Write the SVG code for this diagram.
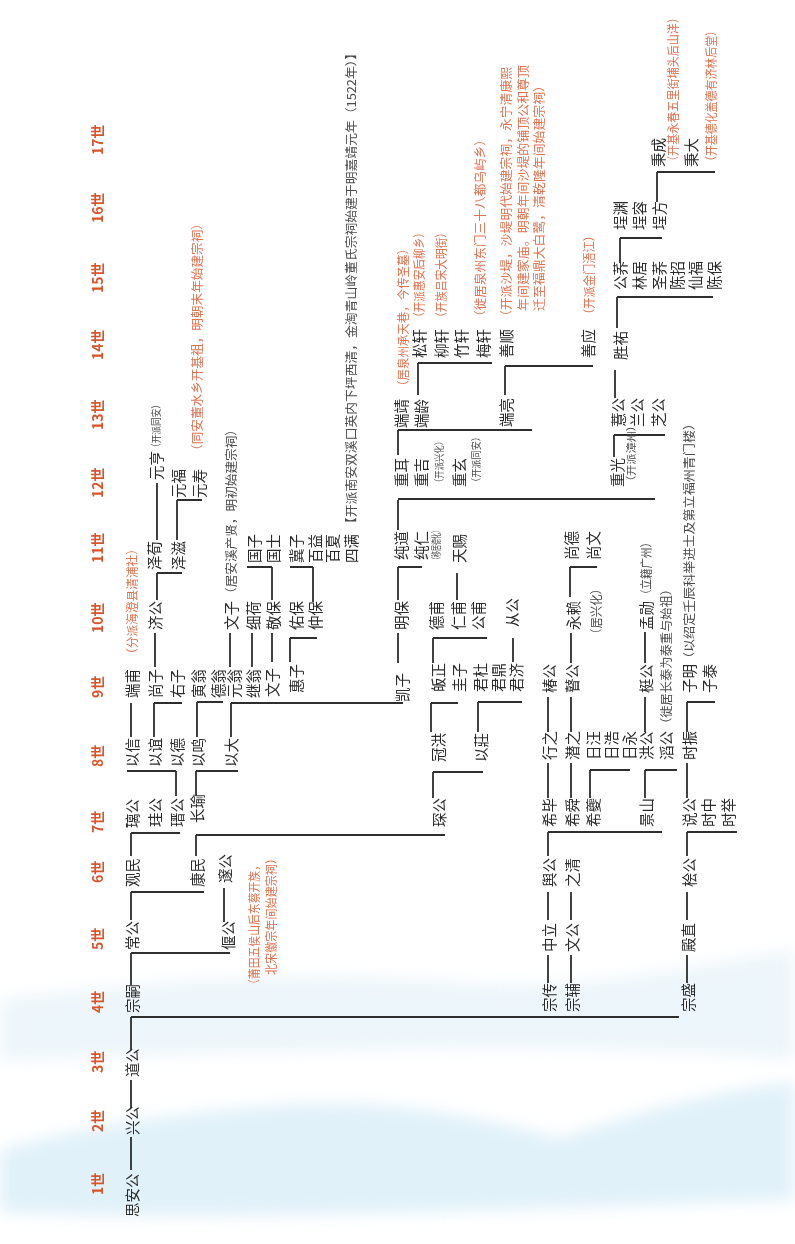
<svg xmlns="http://www.w3.org/2000/svg" width="795" height="1244" viewBox="0 0 795 1244">
<style>
text{font-family:"Noto Sans CJK SC","Noto Sans CJK JP",sans-serif;dominant-baseline:central}
.n{font-size:14.5px;fill:#2b2b2b}
.gen{font-family:"Liberation Sans","Noto Sans CJK SC",sans-serif;font-size:14px;font-weight:bold;fill:#d9542b}
.r{font-size:12px;fill:#e0714f}
.a{font-size:12px;fill:#4a4a4a}
.s{font-size:10px;fill:#4a4a4a}
.c{fill:none;stroke:#2e2e2e;stroke-width:1.8}
</style>
<defs>
<filter id="blur" x="-10%" y="-30%" width="120%" height="160%"><feGaussianBlur stdDeviation="8"/></filter>
</defs>
<rect width="795" height="1244" fill="#fff"/>
<g id="background" filter="url(#blur)">
<path d="M0 1000 C150 980 300 970 450 982 C600 994 700 962 795 950 L795 1060 C600 1040 300 1050 0 1060 Z" fill="#e6f2fa" opacity="0.7"/>
<path d="M0 1150 C100 1122 200 1110 300 1104 C400 1100 480 1118 560 1138 C650 1108 720 1090 795 1082 L795 1200 C500 1210 200 1222 0 1212 Z" fill="#d9edf8" opacity="0.8"/>
</g>
<g id="connectors" class="c">
<path d="M131 1137V1170M131 1080V1108M131 1017V1050M131 1017H679
M131 953V985M131 953H230M131 892V920M131 892H204M224 888V922
M131 833V856M131 833H180M196 835V856M196 835H445
M176 771V796M127 771H176M196 771V796M196 771H238
M131 703V737M154 703V737M154 703H182M197 702V737M197 702H223M231 703V737M231 703H403
M155 633V667M230 633V667M252 633V667M272 633V662M290 638V662M290 638H317M398 633V663
M433 772V798M433 772H483M431 703V732M431 703H458M478 702V732M478 702H522M433 638V663M433 638H487M513 638V662
M157 573V600M157 573H182M272 567V600M247 567H272M313 567V602M290 567H313M398 567V600M398 567H422M457 573V600
M157 483V540M177 500V540M177 500H202M398 500V530M398 499H655M398 430V455M398 430H532M614 435V457M614 435H665
M418 363V395M418 363H492M505 366V395M505 366H593M615 370V398M617 297V328M617 297H713M620 238V263M620 238H662M657 172V202M657 172H715
M548 955V983M571 955V983M687 955V983M548 892V920M571 892V920M687 892V920
M548 832V856M548 832H662M687 832V856M687 832H737
M548 763V798M571 763V798M590 770V798M590 770H630M645 770V798M645 770H677M687 763V798
M548 697V732M571 697V732M645 697V732M687 702V732M687 702H715
M571 633V663M645 632V663M570 567V597M570 567H597"/>
</g>
<g transform="matrix(0,-1,1,0,0,1244)">
<g id="generations" class="gen">
<text x="49" y="97">1世</text><text x="112" y="97">2世</text><text x="171" y="97">3世</text><text x="231" y="97">4世</text>
<text x="294" y="97">5世</text><text x="361" y="97">6世</text><text x="411" y="97">7世</text><text x="477" y="97">8世</text>
<text x="546" y="97">9世</text><text x="611" y="97">10世</text><text x="681" y="97">11世</text><text x="746" y="97">12世</text>
<text x="814" y="97">13世</text><text x="884" y="97">14世</text><text x="951" y="97">15世</text><text x="1021" y="97">16世</text><text x="1089" y="97">17世</text>
</g>
<g id="n001"><text class="n" x="27" y="131">思安公</text></g>
<g id="n002"><text class="n" x="109" y="131">兴公</text></g>
<g id="n003"><text class="n" x="167" y="131">道公</text></g>
<g id="n004"><text class="n" x="231" y="131">宗嗣</text></g>
<g id="n005"><text class="n" x="232" y="548">宗传</text></g>
<g id="n006"><text class="n" x="232" y="571">宗辅</text></g>
<g id="n007"><text class="n" x="232" y="687">宗盛</text></g>
<g id="n008"><text class="n" x="294" y="131">常公</text></g>
<g id="n009"><text class="n" x="294" y="227">偃公</text><text class="r" x="254" y="253" textLength="130" lengthAdjust="spacingAndGlyphs">（莆田五侯山后东蔡开族，</text><text class="r" x="269" y="270" textLength="122" lengthAdjust="spacingAndGlyphs">北宋徽宗年间始建宗祠）</text></g>
<g id="n010"><text class="n" x="292" y="548">中立</text></g>
<g id="n011"><text class="n" x="292" y="571">文公</text></g>
<g id="n012"><text class="n" x="292" y="687">殿直</text></g>
<g id="n013"><text class="n" x="357" y="131">观民</text></g>
<g id="n014"><text class="n" x="357" y="196">康民</text></g>
<g id="n015"><text class="n" x="361" y="224">邃公</text></g>
<g id="n016"><text class="n" x="357" y="548">舆公</text></g>
<g id="n017"><text class="n" x="357" y="571">之清</text></g>
<g id="n018"><text class="n" x="357" y="688">桧公</text></g>
<g id="n019"><text class="n" x="416" y="131">璃公</text></g>
<g id="n020"><text class="n" x="417" y="154">珪公</text></g>
<g id="n021"><text class="n" x="417" y="176">瑨公</text></g>
<g id="n022"><text class="n" x="421" y="196">长瑜</text></g>
<g id="n023"><text class="n" x="417" y="438">琛公</text></g>
<g id="n024"><text class="n" x="417" y="548">希毕</text></g>
<g id="n025"><text class="n" x="417" y="571">希舜</text></g>
<g id="n026"><text class="n" x="417" y="592">希夔</text></g>
<g id="n027"><text class="n" x="417" y="645">景山</text></g>
<g id="n028"><text class="n" x="417" y="688">说公</text></g>
<g id="n029"><text class="n" x="417" y="707">时中</text></g>
<g id="n030"><text class="n" x="417" y="727">时举</text></g>
<g id="n031"><text class="n" x="477" y="131">以信</text></g>
<g id="n032"><text class="n" x="477" y="154">以谊</text></g>
<g id="n033"><text class="n" x="477" y="176">以德</text></g>
<g id="n034"><text class="n" x="477" y="197">以鸣</text></g>
<g id="n035"><text class="n" x="477" y="230">以大</text></g>
<g id="n036"><text class="n" x="482" y="437">冠洪</text></g>
<g id="n037"><text class="n" x="482" y="480">以莊</text></g>
<g id="n038"><text class="n" x="484" y="548">行之</text></g>
<g id="n039"><text class="n" x="484" y="571">潜之</text></g>
<g id="n040"><text class="n" x="484" y="592">日汪</text></g>
<g id="n041"><text class="n" x="484" y="610">日浩</text></g>
<g id="n042"><text class="n" x="484" y="628">日永</text></g>
<g id="n043"><text class="n" x="484" y="645">洪公</text></g>
<g id="n044"><text class="n" x="484" y="665">滔公</text><text class="a" x="514" y="665" textLength="147" lengthAdjust="spacingAndGlyphs">（徙居长泰为泰重与始祖）</text></g>
<g id="n045"><text class="n" x="484" y="688">时振</text></g>
<g id="n046"><text class="n" x="546" y="131">端甫</text><text class="r" x="584" y="131" textLength="117" lengthAdjust="spacingAndGlyphs">（分派海澄县清浦社）</text></g>
<g id="n047"><text class="n" x="546" y="154">尚子</text></g>
<g id="n048"><text class="n" x="546" y="176">右子</text></g>
<g id="n049"><text class="n" x="546" y="197">寅翁</text></g>
<g id="n050"><text class="n" x="546" y="217">德翁</text></g>
<g id="n051"><text class="n" x="546" y="233">元翁</text></g>
<g id="n052"><text class="n" x="546" y="252">继翁</text></g>
<g id="n053"><text class="n" x="547" y="271">文子</text></g>
<g id="n054"><text class="n" x="551" y="295">惠子</text></g>
<g id="n055"><text class="n" x="542" y="401">凯子</text></g>
<g id="n056"><text class="n" x="552" y="437">皈正</text></g>
<g id="n057"><text class="n" x="552" y="458">圭子</text></g>
<g id="n058"><text class="n" x="552" y="479">君杜</text></g>
<g id="n059"><text class="n" x="552" y="497">君鼎</text></g>
<g id="n060"><text class="n" x="552" y="515">君济</text></g>
<g id="n061"><text class="n" x="551" y="548">椿公</text></g>
<g id="n062"><text class="n" x="551" y="571">瞽公</text></g>
<g id="n063"><text class="n" x="551" y="645">梃公</text></g>
<g id="n064"><text class="n" x="551" y="688">子明</text><text class="a" x="579" y="688" textLength="248" lengthAdjust="spacingAndGlyphs">（以绍定壬辰科举进士及第立福州青门楼）</text></g>
<g id="n065"><text class="n" x="551" y="708">子泰</text></g>
<g id="n066"><text class="n" x="614" y="154">济公</text></g>
<g id="n067"><text class="n" x="614" y="230">文子</text><text class="a" x="644" y="230" textLength="177" lengthAdjust="spacingAndGlyphs">（居安溪产贤，明初始建宗祠）</text></g>
<g id="n068"><text class="n" x="614" y="252">细荷</text></g>
<g id="n069"><text class="n" x="614" y="272">敬保</text></g>
<g id="n070"><text class="n" x="614" y="295">佑保</text></g>
<g id="n071"><text class="n" x="614" y="314">仲保</text></g>
<g id="n072"><text class="n" x="614" y="400">明保</text></g>
<g id="n073"><text class="n" x="614" y="435">德甫</text><text class="s" x="681" y="435" textLength="36" lengthAdjust="spacingAndGlyphs">（移居德化）</text></g>
<g id="n074"><text class="n" x="614" y="457">仁甫</text></g>
<g id="n075"><text class="n" x="614" y="477">公甫</text></g>
<g id="n076"><text class="n" x="617" y="511">从公</text></g>
<g id="n077"><text class="n" x="614" y="572">永赖</text><text class="a" x="604" y="595" textLength="57" lengthAdjust="spacingAndGlyphs">（居兴化）</text></g>
<g id="n078"><text class="n" x="614" y="645">孟勋</text><text class="a" x="644" y="645" textLength="63" lengthAdjust="spacingAndGlyphs">（立籍广州）</text></g>
<g id="n079"><text class="n" x="674" y="153">泽荀</text></g>
<g id="n080"><text class="n" x="674" y="177">泽滋</text></g>
<g id="n081"><text class="n" x="681" y="253">国子</text></g>
<g id="n082"><text class="n" x="681" y="272">国士</text></g>
<g id="n083"><text class="n" x="681" y="295">冀子</text></g>
<g id="n084"><text class="n" x="681" y="314">百益</text></g>
<g id="n085"><text class="n" x="681" y="331">百夏</text></g>
<g id="n086"><text class="n" x="681" y="350">四满</text><text class="a" x="714" y="350" textLength="483" lengthAdjust="spacingAndGlyphs">【开派南安双溪口英内下坪西清，金淘青山岭董氏宗祠始建于明嘉靖元年（1522年）】</text></g>
<g id="n087"><text class="n" x="684" y="400">纯道</text></g>
<g id="n088"><text class="n" x="684" y="420">纯仁</text></g>
<g id="n089"><text class="n" x="681" y="458">天赐</text></g>
<g id="n090"><text class="n" x="684" y="570">尚德</text></g>
<g id="n091"><text class="n" x="684" y="592">尚文</text></g>
<g id="n092"><text class="n" x="764" y="155">元亨</text><text class="s" x="792" y="155" textLength="52" lengthAdjust="spacingAndGlyphs">（开派同安）</text></g>
<g id="n093"><text class="n" x="746" y="177">元福</text></g>
<g id="n094"><text class="n" x="746" y="198">元寿</text><text class="r" x="787" y="196" textLength="240" lengthAdjust="spacingAndGlyphs">（同安董水乡开基祖，明朝末年始建宗祠）</text></g>
<g id="n095"><text class="n" x="757" y="400">重耳</text></g>
<g id="n096"><text class="n" x="757" y="420">重吉</text><text class="s" x="757" y="438" textLength="50" lengthAdjust="spacingAndGlyphs">（开派兴化）</text></g>
<g id="n097"><text class="n" x="757" y="458">重玄</text><text class="s" x="757" y="475" textLength="55" lengthAdjust="spacingAndGlyphs">（开派同安）</text></g>
<g id="n098"><text class="n" x="757" y="616">重光</text><text class="s" x="757" y="630" textLength="67" lengthAdjust="spacingAndGlyphs">（开派漳州）</text></g>
<g id="n099"><text class="n" x="816" y="400">端靖</text><text class="r" x="852" y="402" textLength="149" lengthAdjust="spacingAndGlyphs">（居泉州承天巷，今传圣墓）</text></g>
<g id="n100"><text class="n" x="816" y="420">端龄</text></g>
<g id="n101"><text class="n" x="817" y="505">端亮</text></g>
<g id="n102"><text class="n" x="817" y="617">薏公</text></g>
<g id="n103"><text class="n" x="817" y="636">兰公</text></g>
<g id="n104"><text class="n" x="817" y="657">芝公</text></g>
<g id="n105"><text class="n" x="886" y="418">松轩</text><text class="r" x="921" y="418" textLength="96" lengthAdjust="spacingAndGlyphs">（开派惠安后柳乡）</text></g>
<g id="n106"><text class="n" x="886" y="440">柳轩</text><text class="r" x="921" y="440" textLength="96" lengthAdjust="spacingAndGlyphs">（开族吕宋大明街）</text></g>
<g id="n107"><text class="n" x="886" y="460">竹轩</text></g>
<g id="n108"><text class="n" x="886" y="482">梅轩</text><text class="r" x="921" y="479" textLength="190" lengthAdjust="spacingAndGlyphs">（徙居泉州东门三十八都乌屿乡）</text></g>
<g id="n109"><text class="n" x="886" y="505">善顺</text><text class="r" x="921" y="505" textLength="256" lengthAdjust="spacingAndGlyphs">（开派沙堤，沙堤明代始建宗祠，永宁清康熙</text><text class="r" x="933" y="522" textLength="246" lengthAdjust="spacingAndGlyphs">年间建家庙。明朝年间沙堤的铺顶公和尊顶</text><text class="r" x="933" y="538" textLength="232" lengthAdjust="spacingAndGlyphs">迁至福鼎大白鹭，清乾隆年间始建宗祠）</text></g>
<g id="n110"><text class="n" x="886" y="587">善应</text><text class="r" x="924" y="588" textLength="90" lengthAdjust="spacingAndGlyphs">（开派金门浯江）</text></g>
<g id="n111"><text class="n" x="884" y="619">胜祐</text></g>
<g id="n112"><text class="n" x="954" y="619">公荞</text></g>
<g id="n113"><text class="n" x="954" y="638">林居</text></g>
<g id="n114"><text class="n" x="954" y="658">圣荞</text></g>
<g id="n115"><text class="n" x="954" y="676">陈招</text></g>
<g id="n116"><text class="n" x="954" y="694">仙福</text></g>
<g id="n117"><text class="n" x="954" y="713">陈保</text></g>
<g id="n118"><text class="n" x="1014" y="619">埕渊</text></g>
<g id="n119"><text class="n" x="1014" y="638">埕容</text></g>
<g id="n120"><text class="n" x="1014" y="658">埕方</text></g>
<g id="n121"><text class="n" x="1077" y="657">秉成</text><text class="r" x="1077" y="672" textLength="155" lengthAdjust="spacingAndGlyphs">（开基永春五里街埔头后山洋）</text></g>
<g id="n122"><text class="n" x="1077" y="690">秉大</text><text class="r" x="1077" y="710" textLength="142" lengthAdjust="spacingAndGlyphs">（开基德化盖德有济林后堂）</text></g>
</g>
</svg>
